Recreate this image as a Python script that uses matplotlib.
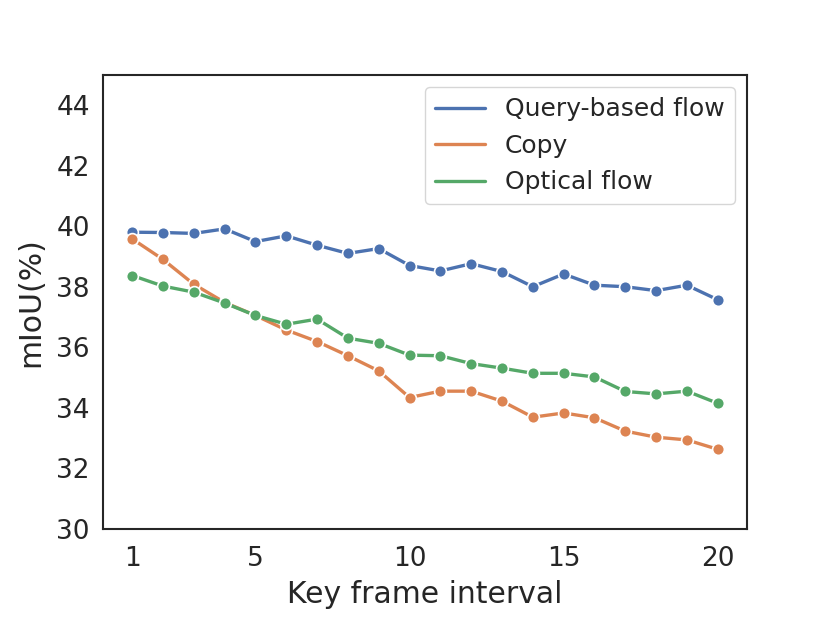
import matplotlib
matplotlib.use("Agg")
import matplotlib.pyplot as plt
import seaborn as sns
from matplotlib.lines import Line2D

sns.set_theme(style="white")
plt.rcParams['font.family'] = ['DejaVu Sans']

intervals = list(range(1, 21))
queryFlow = [39.80, 39.79, 39.76, 39.91, 39.49, 39.68, 39.37, 39.10, 39.26, 38.70,
             38.52, 38.76, 38.50, 38.00, 38.42, 38.05, 38.00, 37.87, 38.05, 37.57]
copyRes = [39.58, 38.90, 38.08, 37.48, 37.05, 36.57, 36.19, 35.72, 35.22, 34.34,
           34.55, 34.55, 34.22, 33.69, 33.83, 33.67, 33.23, 33.03, 32.94, 32.63]
opticalFlow = [38.37, 38.02, 37.82, 37.46, 37.05, 36.76, 36.93, 36.30, 36.13, 35.74,
               35.72, 35.46, 35.31, 35.14, 35.14, 35.02, 34.54, 34.46, 34.55, 34.15]
seriesNames = ["Query-based flow", "Copy", "Optical flow"]
xTicks = [1, 5, 10, 15, 20]
yTicks = [30, 32, 34, 36, 38, 40, 42, 44]

colors = sns.color_palette("deep")[:3]

fig = plt.figure(figsize=(8.3, 6.23), dpi=100)
ax = fig.add_axes([0.124, 0.151, 0.776, 0.729])

for vals, name, c in zip([queryFlow, copyRes, opticalFlow], seriesNames, colors):
    ax.plot(intervals, vals, color=c, lw=2.4, marker='o', ms=8.5,
            markeredgecolor='white', markeredgewidth=1.2, label=name)

ax.set_ylim(30, 45)
ax.set_yticks(yTicks)
ax.set_xticks(xTicks)
ax.tick_params(axis='both', labelsize=19)
ax.tick_params(axis='x', pad=6)
ax.set_xlabel("Key frame interval", fontsize=21.5, labelpad=6)
ax.set_ylabel("mIoU(%)", fontsize=21.5, labelpad=8)
for s in ax.spines.values():
    s.set_color('.15')
    s.set_linewidth(1.5)

handles = [Line2D([0], [0], color=c, lw=2.4) for c in colors]
ax.legend(handles, seriesNames, loc='upper right', fontsize=18,
          labelspacing=0.5, handlelength=2.0, handletextpad=0.8)

fig.savefig("out.png", dpi=100)
